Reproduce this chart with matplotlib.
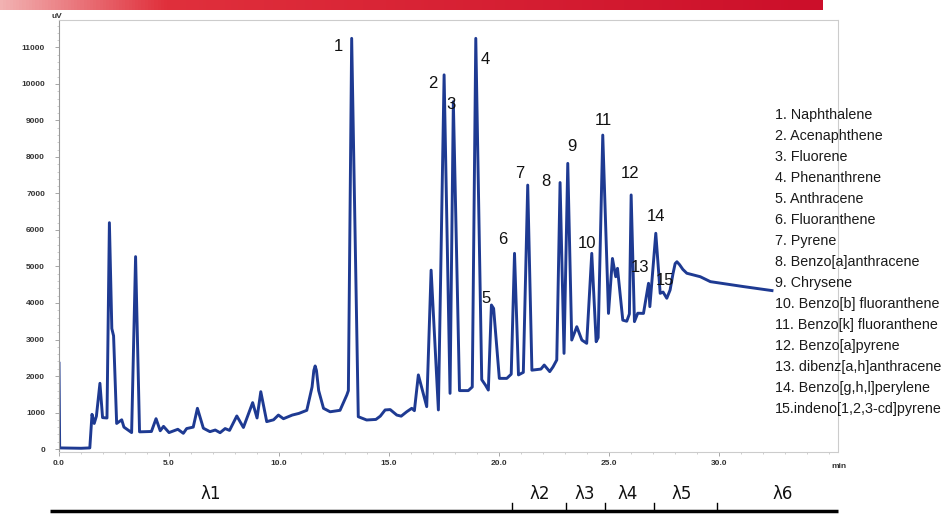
import matplotlib
matplotlib.use("Agg")
import matplotlib.pyplot as plt
import matplotlib.transforms as mtransforms
import numpy as np
from matplotlib.colors import LinearSegmentedColormap

plt.rcParams['font.family'] = ['Liberation Sans', 'DejaVu Sans']

# chromatogram trace (minutes, uV)
time_min = [0.0, 0.0, 0.03, 1.0, 1.4, 1.5, 1.6, 1.7, 1.86, 1.98, 2.18, 2.29, 2.40, 2.48, 2.62,
            2.85, 2.95, 3.30, 3.48, 3.66, 4.2, 4.41, 4.6, 4.75, 5.0, 5.4, 5.65, 5.8, 6.1,
            6.29, 6.56, 6.86, 7.1, 7.32, 7.55, 7.75, 8.08, 8.38, 8.80, 9.0, 9.17, 9.44,
            9.75, 9.97, 10.2, 10.6, 10.9, 11.26, 11.5, 11.58, 11.64, 11.7, 11.8, 12.02,
            12.32, 12.77, 13.08, 13.15,
            13.30, 13.6, 13.98, 14.4, 14.6, 14.82, 15.05, 15.35, 15.55, 15.8, 16.03, 16.15,
            16.33, 16.71, 16.91, 17.24, 17.5, 17.77, 17.92, 18.2, 18.6, 18.78, 18.94, 19.21,
            19.38, 19.51, 19.65, 19.75, 20.01, 20.35, 20.55, 20.7, 20.88, 21.1, 21.3, 21.49,
            21.9, 22.05, 22.3, 22.45, 22.62, 22.77, 22.95, 23.12, 23.3, 23.53, 23.76, 23.98,
            24.21, 24.41, 24.5, 24.71, 24.97, 25.15, 25.3, 25.38, 25.62, 25.8, 25.92, 26.0,
            26.15, 26.3, 26.56, 26.79, 26.85, 27.12, 27.32, 27.45, 27.62, 27.77, 27.9, 28.0,
            28.08, 28.2, 28.35, 28.53, 29.14, 29.6, 31.1, 32.4]
signal_uv = [2350, 2350, 30, 20, 30, 950, 700, 900, 1800, 860, 850, 6200, 3300, 3100, 700,
             800, 600, 450, 5270, 470, 480, 830, 500, 620, 450, 540, 430, 560, 600,
             1115, 570, 475, 520, 447, 560, 510, 905, 590, 1270, 850, 1570, 750,
             800, 930, 830, 930, 975, 1060, 1700, 2150, 2275, 2150, 1600, 1115,
             1020, 1060, 1480, 1600,
             11250, 885, 795, 810, 900, 1070, 1080, 930, 900, 1020, 1115, 1050,
             2030, 1160, 4900, 1070, 10250, 1525, 9515, 1600, 1600, 1700, 11250, 1900,
             1750, 1615, 3945, 3850, 1935, 1935, 2050, 5360, 2030, 2100, 7230, 2160,
             2190, 2300, 2120, 2250, 2440, 7300, 2620, 7825, 2985, 3350, 2985, 2895,
             5360, 2940, 3050, 8600, 3715, 5220, 4720, 4950, 3530, 3500, 3700, 6960,
             3490, 3720, 3715, 4540, 3900, 5910, 4265, 4300, 4130, 4355, 4800, 5080,
             5130, 5050, 4920, 4815, 4720, 4585, 4450, 4340]

peak_ids = [str(i) for i in range(1, 16)]
label_t = [12.68, 17.0, 17.82, 19.36, 19.41, 20.18, 20.95, 22.14, 23.32, 24.0, 24.73, 25.95, 26.41, 27.14, 27.55]
label_y = [11040, 10000, 9450, 10660, 4135, 5730, 7560, 7340, 8300, 5640, 9010, 7560, 4960, 6380, 4630]

compounds = ["Naphthalene", "Acenaphthene", "Fluorene", "Phenanthrene", "Anthracene",
             "Fluoranthene", "Pyrene", "Benzo[a]anthracene", "Chrysene",
             "Benzo[b] fluoranthene", "Benzo[k] fluoranthene", "Benzo[a]pyrene",
             "dibenz[a,h]anthracene", "Benzo[g,h,l]perylene", "indeno[1,2,3-cd]pyrene"]

# wavelength program: switch times and label positions (minutes)
lambda_switch = [20.6, 23.05, 24.8, 27.05, 29.9]
lambda_names = ["λ1", "λ2", "λ3", "λ4", "λ5", "λ6"]
lambda_pos = [6.9, 21.86, 23.9, 25.86, 28.3, 32.9]

fig = plt.figure(figsize=(9.47, 5.14), dpi=100)
ax = fig.add_axes([59 / 947, 1 - 452 / 514, (838 - 59) / 947, (452 - 20) / 514])

ax.plot(time_min, signal_uv, color='#1e3a92', lw=2.1, solid_joinstyle='round')

ax.set_xlim(0, 35.4)
ax.set_ylim(-82, 11753)

ax.set_yticks(range(0, 12000, 1000))
ax.set_yticklabels([str(v) for v in range(0, 12000, 1000)], fontsize=6, color='#333333',
                   fontweight='bold')
ax.set_yticks(np.arange(0, 11800, 200), minor=True)
ax.set_xticks([0, 5, 10, 15, 20, 25, 30])
ax.set_xticklabels(["0.0", "5.0", "10.0", "15.0", "20.0", "25.0", "30.0"], fontsize=6,
                   color='#333333', fontweight='bold')
ax.set_xticks(np.arange(0, 35.5, 1), minor=True)
ax.tick_params(axis='y', which='major', length=3, width=0.6, color='#999999', pad=7)
ax.tick_params(axis='x', which='major', length=3, width=0.6, color='#999999', pad=3)
ax.tick_params(axis='both', which='minor', length=1.5, width=0.5, color='#bbbbbb')

ax.spines['left'].set_color('#999999')
ax.spines['left'].set_linewidth(0.8)
for s in ['top', 'right', 'bottom']:
    ax.spines[s].set_color('#cccccc')
    ax.spines[s].set_linestyle((0, (1, 1)))
    ax.spines[s].set_linewidth(0.8)

ax.text(35.45, -370, "min", fontsize=6, color='#333333', ha='center', va='top', clip_on=False,
        fontweight='bold')
fig.text(57 / 947, 1 - 17 / 514, "uV", fontsize=6, color='#333333', ha='center', va='center',
         fontweight='bold')

for pid, tx, ty in zip(peak_ids, label_t, label_y):
    ax.text(tx, ty, pid, fontsize=12, color='#111111', ha='center', va='center')

for i, name in enumerate(compounds):
    sep = ". " if i < 14 else "."
    fig.text(775 / 947, 1 - (115 + i * 21.0) / 514, f"{i + 1}{sep}{name}",
             fontsize=10.3, color='#1a1a1a', ha='left', va='center')

# wavelength bar under the axis
trans = mtransforms.blended_transform_factory(ax.transData, fig.transFigure)
ybar = 1 - 511 / 514
ax.plot([-0.4, 35.4], [ybar, ybar], color='black', lw=2.5, transform=trans, clip_on=False,
        solid_capstyle='butt')
for ts in lambda_switch:
    ax.plot([ts, ts], [ybar, ybar + 8 / 514], color='black', lw=1.0, transform=trans, clip_on=False)
for name, tp in zip(lambda_names, lambda_pos):
    ax.text(tp, 1 - 494 / 514, name, fontsize=12, color='#111111', ha='center', va='center',
            transform=trans, family=['DejaVu Sans'])

# red header strip
bar_ax = fig.add_axes([0, 1 - 10 / 514, 822 / 947, 10 / 514])
cmap = LinearSegmentedColormap.from_list('hdr', [(0, '#f2b2b2'), (0.2, '#e0303c'), (1, '#cc0f2a')])
bar_ax.imshow(np.linspace(0, 1, 256).reshape(1, -1), aspect='auto', cmap=cmap)
bar_ax.axis('off')

fig.savefig("out.png", dpi=100)
